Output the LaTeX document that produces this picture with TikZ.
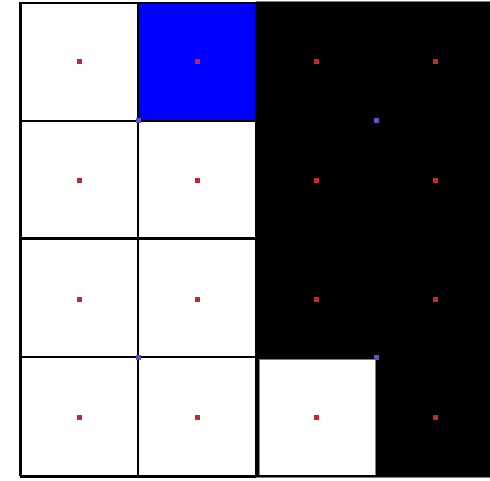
\documentclass[tikz,border=0pt]{standalone}
\begin{document}
\begin{tikzpicture}[x=1pt,y=-1pt,
  thinline/.style={line width=1.2pt,black},
  thickline/.style={line width=3pt,black},
  reddot/.style={fill={rgb,255:red,205;green,35;blue,45}},
  bluedot/.style={fill={rgb,255:red,85;green,85;blue,200}}]
\useasboundingbox (0,0) rectangle (490,481);
\fill[white] (0,0) rectangle (490,481);
% black region
\fill[black] (256,2) rectangle (490,477);
% blue cell
\fill[blue] (138,3) rectangle (256,121);
% white cell in black region
\fill[white] (259,359) rectangle (375.5,475);
\draw[line width=0.6pt,gray] (259,475) -- (259,359) -- (375.5,359) -- (375.5,475);
% thin grid lines
\draw[thinline] (138,3) -- (138,476);
\draw[thinline] (20,121) -- (256,121);
\draw[thinline] (20,357) -- (256,357);
% thick lines
\draw[thickline] (20,239) -- (256,239);
\draw[thickline] (256,3) -- (256,476);
% outer border
\draw[line width=3pt] (20,2) -- (20,476);
\draw[line width=2.5pt] (20,3) -- (256,3);
\draw[line width=3pt] (20,476) -- (256,476);
\draw[line width=0.8pt,gray] (256,1.5) -- (490,1.5);
\draw[line width=0.8pt,gray] (256,477.5) -- (490,477.5);
% red dots
\foreach \cx in {79,197,316,435}
  \foreach \cy in {62,181,299,417}
    \fill[reddot] (\cx-2.5,\cy-2.5) rectangle (\cx+2.5,\cy+2.5);
% blue dots
\foreach \bx/\by in {138/121,376/121,138/357,376/357}
  \fill[bluedot] (\bx-2.5,\by-2.5) rectangle (\bx+2.5,\by+2.5);
\end{tikzpicture}
\end{document}
